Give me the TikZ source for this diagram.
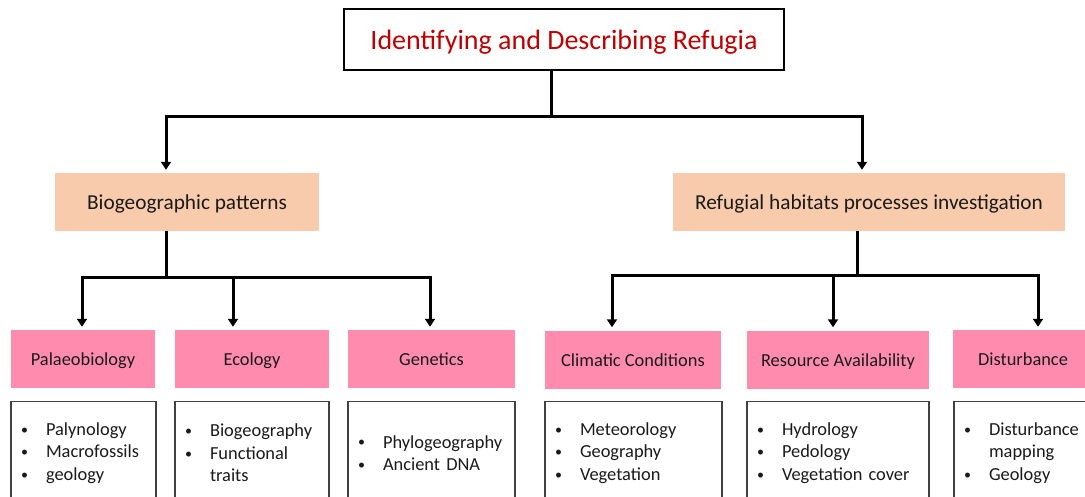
\documentclass[tikz,border=0pt]{standalone}
\usepackage{fontspec}
\setmainfont{Carlito}
\usetikzlibrary{arrows.meta}
\definecolor{titlered}{HTML}{C00000}
\definecolor{peach}{HTML}{F8CBAD}
\definecolor{pinkfill}{HTML}{FF8CAE}
\definecolor{txt}{HTML}{1A1A1A}
\definecolor{boxline}{HTML}{404040}
\newcommand\smallbul{\makebox[0pt][l]{\raisebox{1.2pt}{\fontsize{14}{14}\selectfont\textbullet}}}
\newcommand\bitem[1]{\makebox[25pt][l]{\smallbul}#1}
\newcommand\bcont[1]{\hspace*{25pt}#1}
\begin{document}
\begin{tikzpicture}[x=1pt,y=-1pt,
  titlebox/.style={draw=black, line width=2pt, minimum width=440pt, minimum height=61pt, inner sep=0pt, text height=24pt, text depth=3pt, text=titlered, font=\fontsize{28}{34}\selectfont},
  peachbox/.style={fill=peach, minimum height=58pt, inner sep=0pt, text height=18pt, text depth=3.4pt, text=txt, font=\fontsize{21.3}{25}\selectfont},
  pinkbox/.style={fill=pinkfill, minimum height=58pt, inner sep=0pt, text height=16pt, text depth=2.6pt, text=txt, font=\fontsize{18.4}{22.5}\selectfont},
  listbox/.style={draw=boxline, line width=1.2pt, anchor=north, inner xsep=10pt, inner ysep=0pt, minimum height=103pt, align=left, text=txt, font=\fontsize{18.4}{22.5}\selectfont},
  conn/.style={line width=3pt, line join=miter},
  arr/.style={conn, -{Triangle[width=10pt,length=8pt]}, shorten >=3pt}]
\useasboundingbox (0,0) rectangle (1085,497);
\clip (0,0) rectangle (1085,497);

% title
\node[titlebox] (title) at (564,39.5) {Identifying and Describing Refugia};

% second level
\node[peachbox, minimum width=264pt] (bio) at (187,202) {Biogeographic patterns};
\node[peachbox, minimum width=392pt] (ref) at (869,202) {Refugial habitats processes investigation};

% third level
\node[pinkbox, minimum width=144pt] (pal) at (83,359) {Palaeobiology};
\node[pinkbox, minimum width=154pt] (eco) at (252,359) {Ecology};
\node[pinkbox, minimum width=167pt] (gen) at (431.5,359) {Genetics};
\node[pinkbox, minimum width=176pt] (cli) at (633,359.5) {Climatic Conditions};
\node[pinkbox, minimum width=182pt] (res) at (838,359.5) {Resource Availability};
\node[pinkbox, minimum width=140pt] (dis) at (1023,359) {Disturbance};

% lists
\node[listbox, text width=125pt] (palL) at (83.5,401) {\bitem{Palynology}\\\bitem{Macrofossils}\\\bitem{geology}};
\node[listbox, text width=134pt] (ecoL) at (252,401) {\bitem{Biogeography}\\\bitem{Functional}\\\bcont{traits}};
\node[listbox, text width=147pt] (genL) at (431.5,401) {\bitem{Phylogeography}\\\bitem{Ancient DNA}};
\node[listbox, text width=157pt] (cliL) at (633.5,401) {\bitem{Meteorology}\\\bitem{Geography}\\\bitem{Vegetation}};
\node[listbox, text width=162pt] (resL) at (838,401) {\bitem{Hydrology}\\\bitem{Pedology}\\\bitem{Vegetation cover}};
\node[listbox, text width=120pt] (disL) at (1024,401) {\bitem{Disturbance}\\\bcont{mapping}\\\bitem{Geology}};

% junction coordinates
\coordinate (tj) at (551,117);
\coordinate (tl) at (166,117);
\coordinate (tr) at (862,117);
\coordinate (bj) at (166,278);
\coordinate (b1) at (82,278);
\coordinate (b2) at (233,278);
\coordinate (b3) at (430,278);
\coordinate (rj) at (857,276);
\coordinate (r1) at (612,276);
\coordinate (r2) at (833,276);
\coordinate (r3) at (1038,276);

% connectors
\draw[arr] (title.south -| tj) -- (tj) -- (tl) -- (tl |- bio.north);
\draw[arr] (title.south -| tj) -- (tj) -- (tr) -- (tr |- ref.north);

\draw[arr] (bio.south -| bj) -- (bj) -- (b1) -- (b1 |- pal.north);
\draw[arr] (bio.south -| bj) -- (bj) -- (b2) -- (b2 |- eco.north);
\draw[arr] (bio.south -| bj) -- (bj) -- (b3) -- (b3 |- gen.north);

\draw[arr] (ref.south -| rj) -- (rj) -- (r1) -- (r1 |- cli.north);
\draw[arr] (ref.south -| rj) -- (rj) -- (r2) -- (r2 |- res.north);
\draw[arr] (ref.south -| rj) -- (rj) -- (r3) -- (r3 |- dis.north);
\end{tikzpicture}
\end{document}
